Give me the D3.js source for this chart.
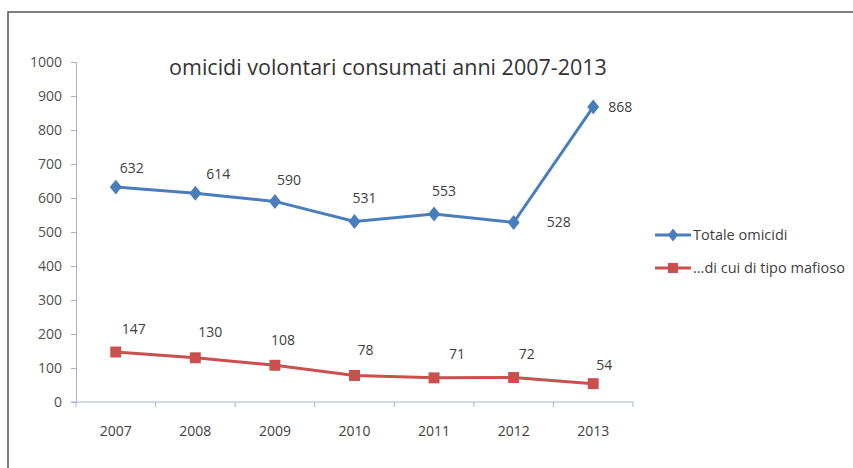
<!DOCTYPE html>
<html>
<head>
<meta charset="utf-8">
<script src="https://cdn.jsdelivr.net/npm/d3@7"></script>
<style>
  body { margin: 0; background: #fff; }
  text { font-family: "Open Sans", "DejaVu Sans", sans-serif; }
</style>
</head>
<body>
<svg></svg>
<script>
// values
const years = ['2007', '2008', '2009', '2010', '2011', '2012', '2013'];
const totale = [632, 614, 590, 531, 553, 528, 868];
const mafioso = [147, 130, 108, 78, 71, 72, 54];
const yTicks = [0, 100, 200, 300, 400, 500, 600, 700, 800, 900, 1000];
const seriesNames = ['Totale omicidi', '...di cui di tipo mafioso'];
const title = 'omicidi volontari consumati anni 2007-2013';

// where each data label sits relative to its point [dx, dy]
const totaleLabelPos = [[16, -19], [23, -19], [14, -21], [10, -23], [10, -23], [45, 0], [27, 0]];
const mafiosoLabelPos = [[18, -23], [15, -26], [8, -25], [11, -25], [23, -24], [13, -23], [11, -19]];

const W = 853, H = 468;
const blue = '#4a7ebb', red = '#c9504d';
const axisCol = '#9fb3d6';
const fs = 14;

const svg = d3.select('svg').attr('width', W).attr('height', H);

// frame (only top and left edges are inside the picture)
svg.append('path')
  .attr('d', `M8,${H} L8,12 L${W},12`)
  .attr('fill', 'none')
  .attr('stroke', '#555')
  .attr('stroke-width', 1.5);

const x = d3.scaleBand().domain(years).range([76, 633]);
const y = d3.scaleLinear().domain([0, 1000]).range([402, 62]);
const cx = d => x(d) + x.bandwidth() / 2;

// title
svg.append('text')
  .attr('x', 388).attr('y', 75)
  .attr('text-anchor', 'middle')
  .attr('font-size', 21.5)
  .attr('fill', '#333')
  .text(title);

// y axis
const yAxis = svg.append('g')
  .attr('transform', 'translate(76,0)')
  .call(d3.axisLeft(y).tickValues(yTicks).tickFormat(d3.format('d')).tickSize(5).tickPadding(9));
yAxis.select('.domain').attr('stroke', axisCol);
yAxis.selectAll('.tick line').attr('stroke', axisCol);
yAxis.selectAll('.tick text')
  .attr('font-size', fs).attr('fill', '#505050')
  .style('font-family', '"Open Sans", sans-serif');

// x axis, ticks between categories
const xAxis = svg.append('g').attr('transform', 'translate(0,402)');
xAxis.append('line')
  .attr('x1', 71).attr('x2', 633)
  .attr('stroke', axisCol);
xAxis.selectAll('line.tk')
  .data(years.concat(['end']))
  .join('line')
  .attr('class', 'tk')
  .attr('x1', (d, i) => i < years.length ? x(d) : x(years[years.length - 1]) + x.bandwidth())
  .attr('x2', (d, i) => i < years.length ? x(d) : x(years[years.length - 1]) + x.bandwidth())
  .attr('y1', 0).attr('y2', 5)
  .attr('stroke', axisCol);
xAxis.selectAll('text')
  .data(years)
  .join('text')
  .attr('x', d => cx(d))
  .attr('y', 34)
  .attr('text-anchor', 'middle')
  .attr('font-size', fs)
  .attr('fill', '#404040')
  .text(d => d);

const line = d3.line().x((d, i) => cx(years[i])).y(d => y(d));

function drawSeries(values, color, shape, labelPos) {
  const g = svg.append('g');
  g.append('path')
    .datum(values)
    .attr('d', line)
    .attr('fill', 'none')
    .attr('stroke', color)
    .attr('stroke-width', 3);
  g.selectAll('path.mk')
    .data(values)
    .join('path')
    .attr('class', 'mk')
    .attr('d', d3.symbol().type(shape).size(shape === d3.symbolSquare ? 120 : 80))
    .attr('transform', (d, i) => `translate(${cx(years[i])},${y(d)})` + (shape === d3.symbolDiamond ? ' scale(1.25,0.9)' : ''))
    .attr('fill', color);
  g.selectAll('text')
    .data(values)
    .join('text')
    .attr('x', (d, i) => cx(years[i]) + labelPos[i][0])
    .attr('y', (d, i) => y(d) + labelPos[i][1])
    .attr('dy', '0.35em')
    .attr('text-anchor', 'middle')
    .attr('font-size', fs)
    .attr('fill', '#404040')
    .text(d => d);
}

drawSeries(totale, blue, d3.symbolDiamond, totaleLabelPos);
drawSeries(mafioso, red, d3.symbolSquare, mafiosoLabelPos);

// legend
const legend = svg.append('g');
const legendItems = [
  { name: seriesNames[0], color: blue, shape: d3.symbolDiamond, y: 235 },
  { name: seriesNames[1], color: red, shape: d3.symbolSquare, y: 268 }
];
legendItems.forEach(it => {
  legend.append('line')
    .attr('x1', 655).attr('x2', 691)
    .attr('y1', it.y).attr('y2', it.y)
    .attr('stroke', it.color).attr('stroke-width', 3);
  legend.append('path')
    .attr('d', d3.symbol().type(it.shape).size(it.shape === d3.symbolSquare ? 100 : 60))
    .attr('transform', `translate(673,${it.y})` + (it.shape === d3.symbolDiamond ? ' scale(1.25,0.9)' : ''))
    .attr('fill', it.color);
  legend.append('text')
    .attr('x', 693).attr('y', it.y)
    .attr('dy', '0.35em')
    .attr('font-size', 14.5)
    .attr('fill', '#404040')
    .text(it.name);
});
</script>
</body>
</html>
